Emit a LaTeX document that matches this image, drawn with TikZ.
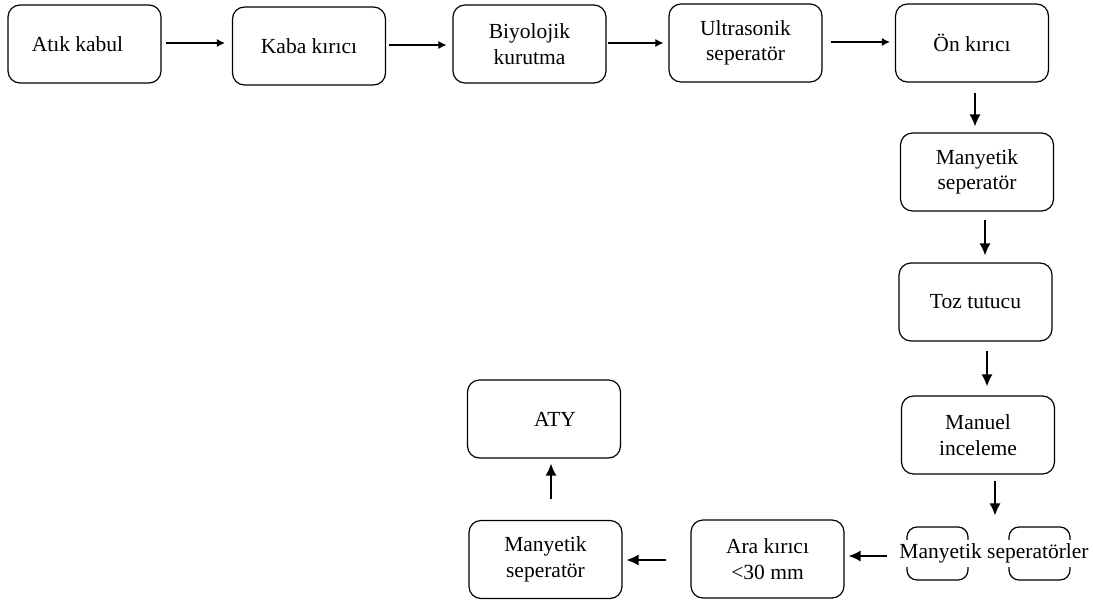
\documentclass[tikz,border=0pt]{standalone}
\usepackage{fontspec}
\setmainfont{Liberation Serif}
\usetikzlibrary{arrows.meta}
\begin{document}
\begin{tikzpicture}[x=1pt,y=-1pt,
  box/.style={draw, rounded corners=12pt, line width=1.2pt, minimum width=153pt, minimum height=78pt,
    align=center, inner sep=0pt, font=\fontsize{21.5}{25.5}\selectfont},
  smallbox/.style={draw, rounded corners=10pt, line width=1.2pt, minimum width=61pt, minimum height=53pt, inner sep=0pt},
  arr/.style={-{Latex[length=12pt,width=11pt]}, line width=1.3pt},
  tarr/.style={-{Latex[length=8pt,width=8pt]}, line width=1.1pt}]
\useasboundingbox (0,0) rectangle (1093,603);
% top row
\node[box] (atik) at (84.5,44) {Atık kabul\hspace*{14pt}};
\node[box] (kaba) at (309,46) {Kaba kırıcı};
\node[box] (biyo) at (529.5,44) {Biyolojik\\kurutma};
\node[box] (ultra) at (745.5,43) {Ultrasonik\\seperatör};
\node[box] (on) at (972,43) {Ön kırıcı};
% right column
\node[box] (man1) at (977,172) {Manyetik\\seperatör};
\node[box] (toz) at (975.5,302) {Toz tutucu};
\node[box] (manuel) at (978,435) {Manuel\\inceleme};
% separators
\node[smallbox] (msa) at (937.5,553.5) {};
\node[smallbox] (msb) at (1039.5,553.5) {};
\node[fill=white, inner xsep=1pt, inner ysep=0pt, minimum height=27pt, font=\fontsize{21.5}{25.5}\selectfont] (mstext) at (994,553) {Manyetik seperatörler};
% bottom row
\node[box] (ara) at (767.5,559) {Ara kırıcı\\\textless30 mm};
\node[box] (man2) at (545.5,559.5) {Manyetik\\seperatör};
\node[box] (aty) at (544,419) {\hspace*{22pt}ATY};
% arrows top
\draw[tarr, shorten <=4pt, shorten >=7pt] ([yshift=1pt]atik.east) -- ([yshift=1pt]atik.east -| kaba.west);
\draw[tarr, shorten <=3pt, shorten >=6pt] ([yshift=1pt]kaba.east) -- ([yshift=1pt]kaba.east -| biyo.west);
\draw[tarr, shorten <=1pt, shorten >=5pt] ([yshift=1pt]biyo.east) -- ([yshift=1pt]biyo.east -| ultra.west);
\draw[tarr, shorten <=8pt, shorten >=5pt] ([yshift=1pt]ultra.east) -- ([yshift=1pt]ultra.east -| on.west);
% arrows down
\draw[arr, shorten <=10pt, shorten >=6pt] ([xshift=3pt]on.south) -- ([xshift=3pt]on.south |- man1.north);
\draw[arr, shorten <=8pt, shorten >=7pt] ([xshift=8pt]man1.south) -- ([xshift=8pt]man1.south |- toz.north);
\draw[arr, shorten <=9pt, shorten >=9pt] ([xshift=11.5pt]toz.south) -- ([xshift=11.5pt]toz.south |- manuel.north);
\draw[arr, shorten <=6pt, shorten >=11pt] ([xshift=17pt]manuel.south) -- ([xshift=17pt]manuel.south |- msa.north);
% arrows bottom
\draw[arr, shorten <=19pt, shorten >=4pt] ([yshift=-2.5pt]msa.west) -- ([yshift=-2.5pt]msa.west -| ara.east);
\draw[arr, shorten <=24pt, shorten >=4pt] ([yshift=-1pt]ara.west) -- ([yshift=-1pt]ara.west -| man2.east);
\draw[arr, shorten <=21pt, shorten >=5pt] ([xshift=5.5pt]man2.north) -- ([xshift=5.5pt]man2.north |- aty.south);
\end{tikzpicture}
\end{document}
